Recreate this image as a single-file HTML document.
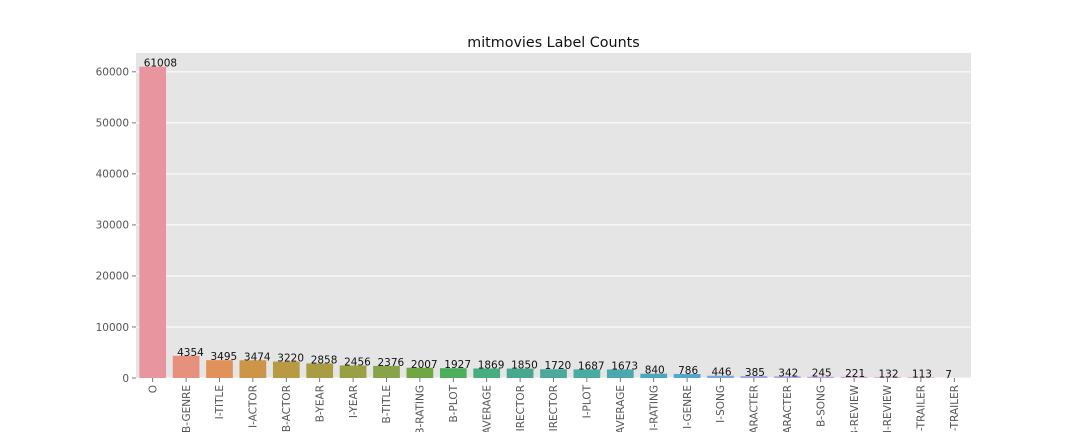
<!DOCTYPE html>
<html><head><meta charset="utf-8">
<style>
body{margin:0;background:#fff;overflow:hidden;width:1080px;height:432px;}
svg{display:block;font-family:"DejaVu Sans","Liberation Sans",sans-serif;overflow:hidden;}
</style></head>
<body>
<svg id="chart" width="1080" height="432" xmlns="http://www.w3.org/2000/svg">
<text x="553.5" y="47" font-size="14.3" text-anchor="middle" fill="#111">mitmovies Label Counts</text>
<rect x="136" y="53" width="835" height="325" fill="#e5e5e5"/>
<g id="grid"></g>
<g id="bars"></g>
<g id="axes"></g>
</svg>
<script>
const categories = ["O","B-GENRE","I-TITLE","I-ACTOR","B-ACTOR","B-YEAR","I-YEAR","B-TITLE","B-RATING","B-PLOT","B-RATINGS_AVERAGE","I-DIRECTOR","B-DIRECTOR","I-PLOT","I-RATINGS_AVERAGE","I-RATING","I-GENRE","I-SONG","B-CHARACTER","I-CHARACTER","B-SONG","B-REVIEW","I-REVIEW","B-TRAILER","I-TRAILER"];
const counts = [61008,4354,3495,3474,3220,2858,2456,2376,2007,1927,1869,1850,1720,1687,1673,840,786,446,385,342,245,221,132,113,7];
const yTicks = [0,10000,20000,30000,40000,50000,60000];
const colors = ["#e9959f","#e8907e","#e0925a","#cc9548","#b89a42","#a99c43","#9a9f43","#88a348","#6ea744","#4caf5e","#47ac80","#48a88f","#4aa99b","#4aaba3","#4aa8ae","#4ba6bf","#53a6cf","#7aa7dc","#a1a6e3","#b5a1e6","#c9a0e3","#dc9ddb","#e19bcf","#e598c1","#e797b0"];

const NS="http://www.w3.org/2000/svg";
const X0=136, W=835, Y0=378, K=(378-66.7)/61008;
const slot=W/categories.length;
const xC=i=>X0+slot*(i+0.5);
const yS=v=>Y0-v*K;
function mk(t,a,p){const e=document.createElementNS(NS,t);for(const k in a)e.setAttribute(k,a[k]);p.appendChild(e);return e;}
const grid=document.getElementById('grid'), bars=document.getElementById('bars'), axes=document.getElementById('axes');
yTicks.forEach(v=>{
  const y=yS(v);
  const l=mk('line',{x1:X0,x2:X0+W,y1:y,y2:y,stroke:'#fff','stroke-width':1},grid);
  
  
  const tk=mk('line',{x1:X0-4,x2:X0,y1:y,y2:y,stroke:'#555','stroke-width':0.8},axes);
  
  
  const t=mk('text',{x:X0-7,y:y+3.8,'font-size':10.5,'text-anchor':'end',fill:'#555'},axes);
  t.textContent=v;
  
  
});
const bw=slot*0.8;
categories.forEach((c,i)=>{
  const v=counts[i], cx=xC(i), y=yS(v);
  const r=mk('rect',{x:cx-bw/2,y:y,width:bw,height:Y0-y,fill:colors[i%colors.length]},bars);
  
  
  const vt=mk('text',{x:cx-9,y:y,'font-size':10.5,'text-anchor':'start',fill:'#111'},bars);
  vt.textContent=v;
  
  
  const tk=mk('line',{x1:cx,x2:cx,y1:Y0,y2:Y0+4,stroke:'#555','stroke-width':0.8},axes);
  
  
  const xt=mk('text',{x:0,y:0,'font-size':10.5,'text-anchor':'end',fill:'#555',transform:`translate(${cx+3.7},${Y0+7}) rotate(-90)`},axes);
  xt.textContent=c;
  
  
});
</script>
</body></html>
